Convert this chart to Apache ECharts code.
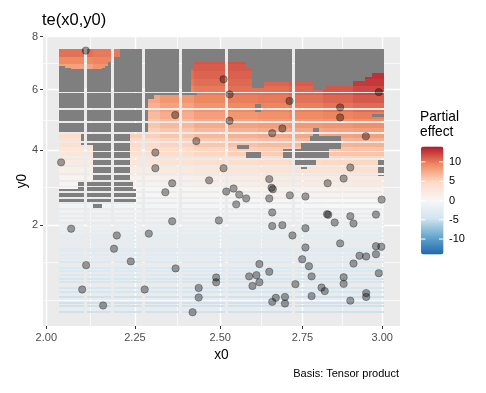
<!DOCTYPE html>
<html>
<head>
<meta charset="utf-8">
<script src="https://cdn.jsdelivr.net/npm/echarts@6/dist/echarts.min.js"></script>
<style>
html, body { margin: 0; padding: 0; background: #fff; }
#chart { width: 486px; height: 393px; }
</style>
</head>
<body>
<div id="chart"></div>
<script>
// evaluation grid of the smooth: 100 x 100 points, even steps in data units
var gridN = 100;
var x0Range = [2.04, 3.0];
var y0Range = [0.44, 7.47];

var xBreaks = [2.00, 2.25, 2.50, 2.75, 3.00];
var yBreaks = [2, 4, 6, 8];

// partial effect, one value per block of 10 x 4 grid points
// first row is the top of the surface (y0 ~ 7.4), last row the bottom (y0 ~ 0.5)
var effectRows = [
  [10.3, 10.0, 10.5, 11.0, 11.5, 11.8, 12.0, 12.3, 12.8, 13.5],
  [ 9.3,  9.5, 10.2, 10.8, 11.4, 11.6, 11.8, 12.1, 12.6, 13.4],
  [ 8.0,  8.8,  9.8, 10.8, 11.2, 11.3, 11.5, 11.8, 12.4, 13.2],
  [ 7.5,  8.3,  9.4, 10.4, 10.9, 11.0, 11.2, 11.5, 12.2, 13.0],
  [ 7.0,  7.8,  8.9, 10.0, 10.5, 10.7, 10.8, 11.2, 11.9, 12.6],
  [ 6.5,  7.3,  8.4,  9.4, 10.0, 10.3, 10.4, 10.8, 11.4, 12.0],
  [ 6.0,  6.8,  7.7,  8.6,  9.4,  9.8, 10.0, 10.3, 10.8, 11.3],
  [ 5.6,  6.3,  7.1,  8.0,  8.8,  9.3,  9.5,  9.8, 10.2, 10.6],
  [ 5.2,  5.8,  6.5,  7.3,  8.1,  8.6,  8.9,  9.2,  9.5,  9.8],
  [ 4.8,  5.3,  5.9,  6.6,  7.4,  7.9,  8.2,  8.5,  8.7,  9.0],
  [ 4.3,  4.8,  5.3,  5.9,  6.6,  7.1,  7.4,  7.6,  7.9,  8.1],
  [ 3.6,  4.1,  4.6,  5.1,  5.8,  6.2,  6.5,  6.7,  6.9,  7.1],
  [ 2.9,  3.3,  3.8,  4.3,  4.9,  5.3,  5.5,  5.7,  5.9,  6.0],
  [ 2.2,  2.5,  2.9,  3.4,  3.9,  4.2,  4.4,  4.6,  4.8,  4.9],
  [ 1.4,  1.6,  1.9,  2.3,  2.7,  3.0,  3.2,  3.4,  3.5,  3.6],
  [ 0.6,  0.8,  1.0,  1.3,  1.6,  1.8,  2.0,  2.1,  2.2,  2.3],
  [-0.2,  0.0,  0.1,  0.3,  0.5,  0.7,  0.8,  0.9,  1.0,  1.0],
  [-0.8, -0.7, -0.6, -0.5, -0.4, -0.3, -0.2, -0.2, -0.1, -0.1],
  [-1.4, -1.3, -1.3, -1.2, -1.2, -1.1, -1.1, -1.0, -1.0, -1.0],
  [-1.9, -1.9, -1.8, -1.8, -1.8, -1.8, -1.7, -1.7, -1.7, -1.7],
  [-2.5, -2.5, -2.4, -2.4, -2.4, -2.4, -2.4, -2.4, -2.4, -2.4],
  [-3.1, -3.0, -3.0, -3.0, -3.0, -3.0, -3.0, -3.0, -3.0, -3.1],
  [-3.7, -3.6, -3.6, -3.6, -3.6, -3.6, -3.6, -3.6, -3.6, -3.7],
  [-4.3, -4.2, -4.2, -4.2, -4.2, -4.2, -4.2, -4.2, -4.2, -4.3],
  [-4.9, -4.8, -4.8, -4.8, -4.8, -4.8, -4.8, -4.8, -4.8, -4.9]
];

// parts of the grid too far from the data (drawn grey): [x0 from, x0 to, y0 from, y0 to]
var farBoxes = [
  [2.21, 3.01, 7.0, 7.6],
  [2.188, 2.21, 7.0, 7.2],
  [2.18, 2.425, 6.87, 7.0],
  [2.17, 2.425, 6.80, 6.87],
  [2.16, 2.425, 6.73, 6.80],
  [2.03, 2.052, 6.80, 6.87],
  [2.03, 2.072, 6.73, 6.80],
  [2.03, 2.413, 5.85, 6.73],
  [2.03, 2.43, 5.80, 5.85],
  [2.03, 2.306, 5.66, 5.80],
  [2.03, 2.286, 4.53, 5.66],
  [2.10, 2.243, 4.15, 4.53],
  [2.128, 2.243, 3.08, 4.15],
  [2.09, 2.249, 2.92, 3.08],
  [2.03, 2.254, 2.53, 2.92],
  [2.135, 2.16, 2.40, 2.53],
  [2.575, 2.595, 6.79, 7.0],
  [2.595, 2.602, 6.53, 7.0],
  [2.602, 2.632, 5.98, 7.0],
  [2.632, 2.786, 6.2, 7.0],
  [2.786, 2.817, 5.91, 7.0],
  [2.817, 2.912, 6.05, 7.0],
  [2.912, 2.943, 6.27, 7.0],
  [2.943, 2.966, 6.45, 7.0],
  [2.966, 3.01, 6.6, 7.0],
  [2.603, 2.626, 5.2, 5.42],
  [2.968, 3.01, 5.0, 5.16],
  [2.785, 2.805, 4.47, 4.63],
  [2.775, 2.865, 4.25, 4.47],
  [2.74, 2.865, 4.0, 4.25],
  [2.69, 2.827, 3.77, 4.0],
  [2.724, 2.792, 3.56, 3.77],
  [2.74, 2.765, 3.43, 3.56],
  [2.55, 2.587, 4.0, 4.17],
  [2.58, 2.623, 3.76, 3.95],
  [2.99, 3.01, 3.27, 3.77]
];

// observations
var pointX = [2.110, 2.367, 2.429, 2.309, 2.041, 2.309, 2.510, 2.528, 2.710, 2.867,
  2.867, 2.528, 2.989, 2.688, 2.657, 2.948, 2.510, 2.899, 2.358, 2.467,
  2.338, 2.358, 2.496, 2.069, 2.198, 2.290, 2.190, 2.238, 2.111, 2.368,
  2.488, 2.488, 2.100, 2.278, 2.436, 2.436, 2.159, 2.418, 2.648, 2.655,
  2.659, 2.878, 2.828, 2.518, 2.540, 2.557, 2.578, 2.548, 2.648, 2.711,
  2.759, 2.998, 2.657, 2.826, 2.830, 2.899, 2.850, 2.909, 2.980, 2.657,
  2.688, 2.759, 2.719, 2.867, 2.759, 2.980, 2.997, 2.928, 2.949, 2.980,
  2.749, 2.770, 2.909, 2.618, 2.989, 2.778, 2.648, 2.587, 2.609, 2.618,
  2.597, 2.878, 2.878, 2.728, 2.809, 2.819, 2.778, 2.668, 2.657, 2.696,
  2.696, 2.899, 2.949, 2.949];
var pointY = [7.45, 5.12, 4.28, 3.93, 3.64, 3.47, 6.37, 5.83, 5.60, 5.38,
  5.04, 4.93, 5.91, 4.68, 4.53, 4.43, 3.47, 3.49, 3.05, 3.13,
  2.81, 2.09, 2.11, 1.92, 1.77, 1.81, 1.49, 1.24, 1.17, 1.11,
  0.95, 0.87, 0.755, 0.755, 0.78, 0.635, 0.524, 0.436, 3.165, 2.93,
  2.89, 3.18, 3.05, 2.83, 2.91, 2.75, 2.65, 2.50, 2.65, 2.73,
  2.70, 2.62, 2.30, 2.26, 2.245, 2.21, 2.06, 2.04, 2.25, 1.98,
  2.00, 1.93, 1.77, 1.60, 1.515, 1.54, 1.53, 1.35, 1.335, 1.38,
  1.28, 1.15, 1.20, 1.19, 1.025, 0.97, 1.05, 0.97, 0.99, 0.87,
  0.81, 0.955, 0.845, 0.84, 0.785, 0.73, 0.655, 0.63, 0.573, 0.643,
  0.55, 0.59, 0.70, 0.643];

var effectLimit = 14;
var legendBreaks = [10, 5, 0, -5, -10];
var palette = ['#2166AC', '#67A9CF', '#D1E5F0', '#F7F7F7', '#FDDBC7', '#EF8A62', '#B2182B'];
var font = '"Liberation Sans", Arial, sans-serif';

// position scales: power transforms
var pwX = 0.65, pwY = 0.6;
function trX(v) { return Math.pow(v, pwX); }
function trY(v) { return Math.pow(v, pwY); }
function invX(t) { return Math.pow(t, 1 / pwX); }
function invY(t) { return Math.pow(t, 1 / pwY); }

var xs = [], ys = [];
for (var k = 0; k < gridN; k++) {
  xs.push(x0Range[0] + (x0Range[1] - x0Range[0]) * k / (gridN - 1));
  ys.push(y0Range[0] + (y0Range[1] - y0Range[0]) * k / (gridN - 1));
}
var txs = xs.map(trX), tys = ys.map(trY);

function minStep(a) {
  var m = Infinity;
  for (var k = 1; k < a.length; k++) m = Math.min(m, a[k] - a[k - 1]);
  return m;
}
// raster cells: the smallest step on the transformed scale, like geom_raster
var tw = minStep(txs), th = minStep(tys);
var nCol = Math.floor((txs[gridN - 1] - txs[0]) / tw + 1e-9) + 1;
var nRow = Math.floor((tys[gridN - 1] - tys[0]) / th + 1e-9) + 1;
var xr = [txs[0] - tw / 2, txs[gridN - 1] + tw / 2];
var yr = [tys[0] - th / 2, tys[gridN - 1] + th / 2];
var cellW = (xr[1] - xr[0]) / nCol, cellH = (yr[1] - yr[0]) / nRow;

// panel limits: 5% expansion
var xLo = xr[0] - 0.05 * (xr[1] - xr[0]), xHi = xr[1] + 0.05 * (xr[1] - xr[0]);
var yLo = yr[0] - 0.05 * (yr[1] - yr[0]), yHi = yr[1] + 0.05 * (yr[1] - yr[0]);

function isFar(x, y) {
  for (var b = 0; b < farBoxes.length; b++) {
    var f = farBoxes[b];
    if (x >= f[0] && x <= f[1] && y >= f[2] && y <= f[3]) return true;
  }
  return false;
}

var fitData = [], farData = [];
for (var j = 0; j < gridN; j++) {
  var row = effectRows[effectRows.length - 1 - Math.floor(j / 4)];
  var cy = Math.floor((tys[j] - tys[0]) / th + 1e-9);
  for (var i = 0; i < gridN; i++) {
    var cx = Math.floor((txs[i] - txs[0]) / tw + 1e-9);
    if (isFar(xs[i], ys[j])) farData.push([txs[i], tys[j], 0, cx, cy]);
    else fitData.push([txs[i], tys[j], row[Math.floor(i / 10)], cx, cy]);
  }
}

var points = pointX.map(function (x, n) { return [trX(x), trY(pointY[n])]; });

function cellShape(api) {
  var c = api.value(3), r = api.value(4);
  var a = api.coord([xr[0] + c * cellW, yr[0] + (r + 1) * cellH]);
  var b = api.coord([xr[0] + (c + 1) * cellW, yr[0] + r * cellH]);
  var x = Math.round(a[0]), y = Math.round(a[1]);
  return { x: x, y: y, width: Math.round(b[0]) - x, height: Math.round(b[1]) - y };
}

function minorBreaks(tb) {
  var d = tb[1] - tb[0];
  var b = [tb[0] - d].concat(tb, [tb[tb.length - 1] + d]);
  var out = [];
  for (var k = 0; k < b.length - 1; k++) out.push(b[k], (b[k] + b[k + 1]) / 2);
  out.push(b[b.length - 1]);
  return out.filter(function (v) { return tb.indexOf(v) < 0; });
}
function inside(lo, hi) { return function (v) { return v >= lo && v <= hi; }; }

var xMajor = xBreaks.map(trX), yMajor = yBreaks.map(trY);
var xMinor = minorBreaks(xMajor).filter(inside(xLo, xHi));
var yMinor = minorBreaks(yMajor).filter(inside(yLo, yHi));

// grid box in px
var gLeft = 43, gRight = 86, gTop = 36, gBottom = 67;

// colour bar
var barLeft = 421, barTop = 146.5, barW = 22.5, barH = 108;
function barY(v) { return barTop + (effectLimit - v) / (2 * effectLimit) * barH; }
var legendGraphics = [
  { type: 'text', left: 420, top: 110, style: { text: 'Partial\neffect', fontSize: 13.75, lineHeight: 15, fill: '#000', fontFamily: font } },
  { type: 'text', right: 87, top: 368, style: { text: 'Basis: Tensor product', fontSize: 11, fill: '#000', fontFamily: font } }
];
legendBreaks.forEach(function (v) {
  var y = barY(v);
  legendGraphics.push({ type: 'text', x: 449, y: y, style: { text: String(v), fontSize: 11, fill: '#000', fontFamily: font, align: 'left', verticalAlign: 'middle' } });
  legendGraphics.push({ type: 'line', z: 10, shape: { x1: barLeft, y1: y, x2: barLeft + barW / 5, y2: y }, style: { stroke: '#fff', lineWidth: 1 } });
  legendGraphics.push({ type: 'line', z: 10, shape: { x1: barLeft + barW * 4 / 5, y1: y, x2: barLeft + barW, y2: y }, style: { stroke: '#fff', lineWidth: 1 } });
});

var chart = echarts.init(document.getElementById('chart'));
chart.setOption({
  animation: false,
  backgroundColor: '#fff',
  title: {
    text: 'te(x0,y0)', left: 42, top: 12, padding: 0,
    textStyle: { fontSize: 16.5, fontWeight: 'normal', color: '#000', fontFamily: font }
  },
  grid: {
    left: gLeft, right: gRight, top: gTop, bottom: gBottom,
    show: true, backgroundColor: '#EBEBEB', borderWidth: 0
  },
  xAxis: [{
    type: 'value', min: xLo, max: xHi,
    name: 'x0', nameLocation: 'middle', nameGap: 22,
    nameTextStyle: { fontSize: 13.75, color: '#000', fontFamily: font },
    axisLine: { show: false },
    axisTick: { show: true, length: 3, lineStyle: { color: '#333' }, customValues: xMajor },
    axisLabel: {
      customValues: xMajor, margin: 6, fontSize: 11, color: '#4D4D4D', fontFamily: font,
      formatter: function (v) { return invX(v).toFixed(2); }
    },
    splitLine: { show: true, lineStyle: { color: '#fff', width: 1.4 } }
  }, {
    type: 'value', min: xLo, max: xHi, position: 'bottom',
    axisLine: { show: false }, axisLabel: { show: false },
    axisTick: { show: false, customValues: xMinor },
    splitLine: { show: true, lineStyle: { color: '#fff', width: 0.7 } }
  }],
  yAxis: [{
    type: 'value', min: yLo, max: yHi,
    name: 'y0', nameLocation: 'middle', nameGap: 13.5, nameRotate: 90, nameMoveOverlap: false,
    nameTextStyle: { fontSize: 13.75, color: '#000', fontFamily: font },
    axisLine: { show: false },
    axisTick: { show: true, length: 3, lineStyle: { color: '#333' }, customValues: yMajor },
    axisLabel: {
      customValues: yMajor, margin: 5, fontSize: 11, color: '#4D4D4D', fontFamily: font,
      formatter: function (v) { return String(Math.round(invY(v))); }
    },
    splitLine: { show: true, lineStyle: { color: '#fff', width: 1.4 } }
  }, {
    type: 'value', min: yLo, max: yHi, position: 'left',
    axisLine: { show: false }, axisLabel: { show: false },
    axisTick: { show: false, customValues: yMinor },
    splitLine: { show: true, lineStyle: { color: '#fff', width: 0.7 } }
  }],
  visualMap: {
    type: 'continuous', seriesIndex: 0, dimension: 2,
    min: -effectLimit, max: effectLimit, calculable: false,
    left: barLeft, top: barTop, itemWidth: barW, itemHeight: barH, padding: 0,
    inRange: { color: palette }
  },
  graphic: legendGraphics,
  series: [{
    type: 'custom', data: fitData, encode: { x: 0, y: 1 }, progressive: 0, silent: true,
    renderItem: function (params, api) {
      return { type: 'rect', shape: cellShape(api), style: { fill: api.visual('color') } };
    }
  }, {
    type: 'custom', data: farData, encode: { x: 0, y: 1 }, progressive: 0, silent: true,
    renderItem: function (params, api) {
      return { type: 'rect', shape: cellShape(api), style: { fill: '#7F7F7F' } };
    }
  }, {
    type: 'scatter', data: points, symbolSize: 7.4, silent: true,
    itemStyle: { color: 'rgba(0,0,0,0.37)', borderColor: 'rgba(0,0,0,0.37)', borderWidth: 0.8, opacity: 1 }
  }]
});
</script>
</body>
</html>
